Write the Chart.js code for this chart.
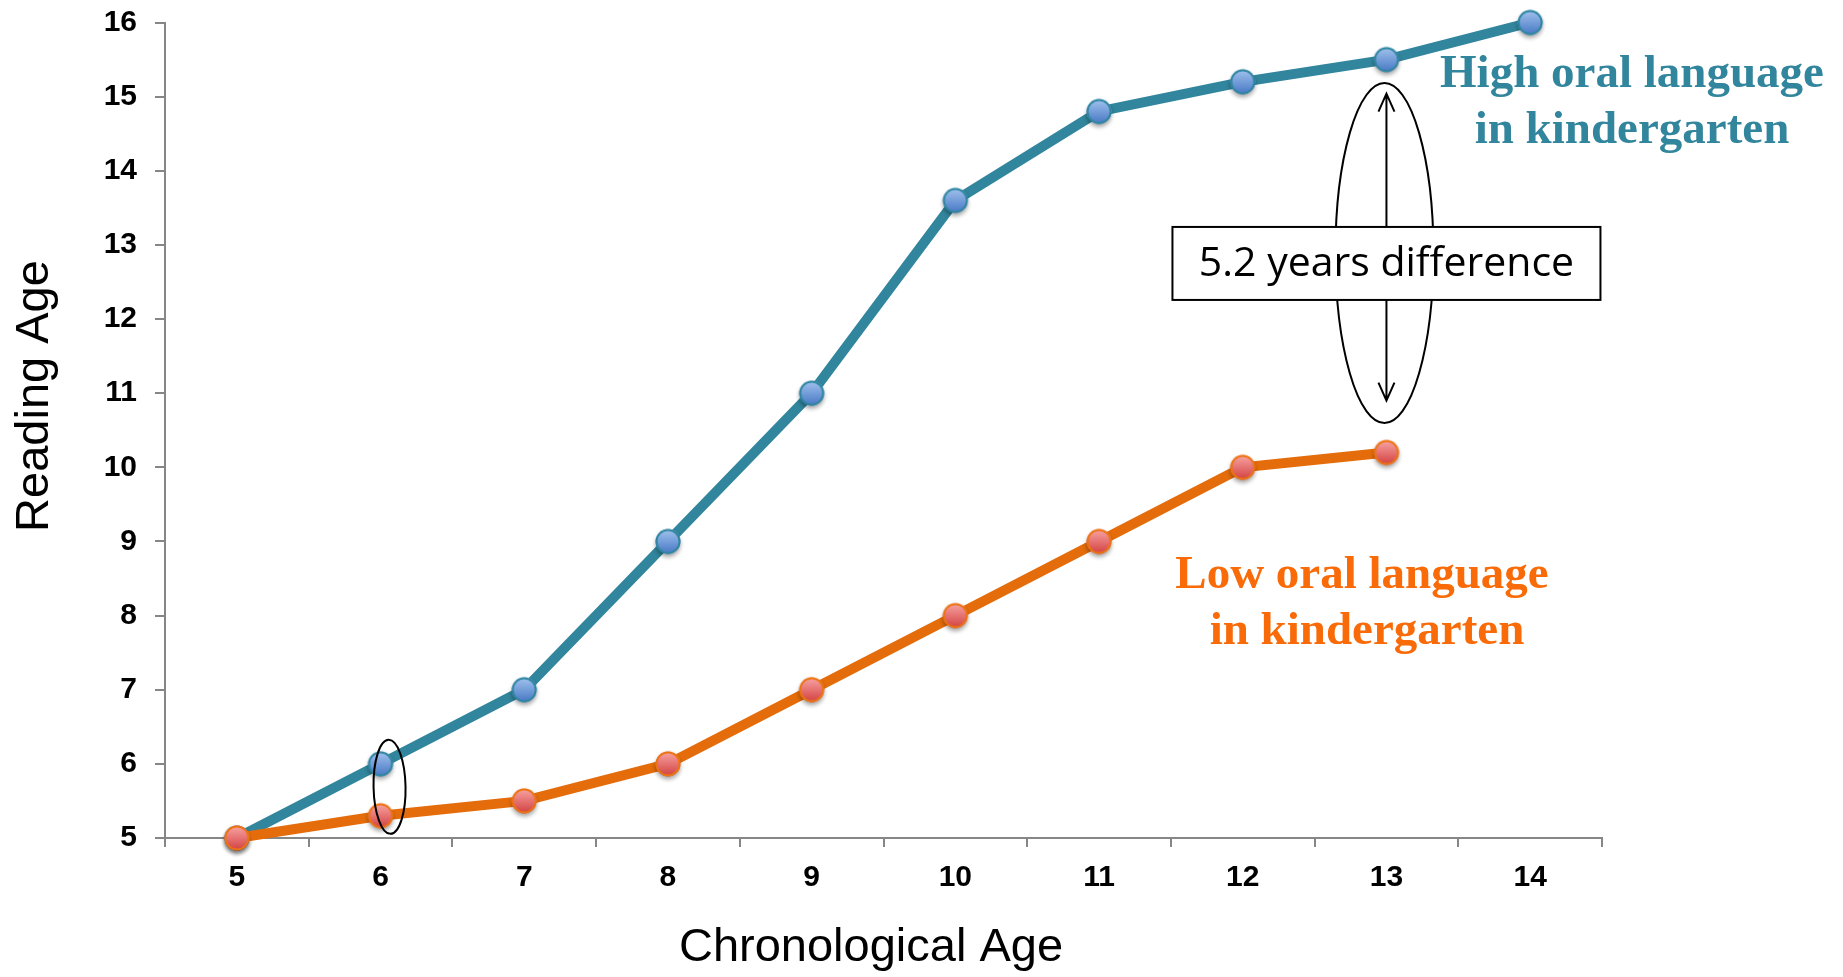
<!DOCTYPE html>
<html><head><meta charset="utf-8">
<script src="https://cdn.jsdelivr.net/npm/chart.js@4.4.0/dist/chart.umd.min.js"></script>
<style>html,body{margin:0;padding:0;background:#fff;}#wrap{width:1843px;height:977px;position:relative;}</style>
</head><body><div id="wrap"><canvas id="c" width="1843" height="977"></canvas></div>
<script>
// ---- data ----
const chronologicalAge = ['5', '6', '7', '8', '9', '10', '11', '12', '13', '14'];
const highOralLanguage = [5, 6, 7, 9, 11, 13.6, 14.8, 15.2, 15.5, 16];
const lowOralLanguage  = [5, 5.3, 5.5, 6, 7, 8, 9, 10, 10.2, null];
const readingAgeRange  = [5, 16];
const xTitle = 'Chronological Age';
const yTitle = 'Reading Age';
const highLabel = ['High oral language', 'in kindergarten'];
const lowLabel  = ['Low oral language', 'in kindergarten'];
const gapLabel  = '5.2 years difference';

// ---- styles ----
const TEAL = '#31859C';
const ORANGE = '#E46C0A';
const ORANGE_TEXT = '#F96B08';
const AXIS = '#868686';

function makeMarker(top, bottom, border) {
  const s = 46, r = 12.5;
  const cv = document.createElement('canvas');
  cv.width = s; cv.height = s;
  const g = cv.getContext('2d');
  g.save();
  g.shadowColor = 'rgba(0,0,0,0.35)';
  g.shadowBlur = 4;
  g.shadowOffsetY = 3;
  const grad = g.createLinearGradient(0, s/2 - r, 0, s/2 + r);
  grad.addColorStop(0, top);
  grad.addColorStop(1, bottom);
  g.beginPath();
  g.arc(s/2, s/2, r, 0, Math.PI * 2);
  g.fillStyle = grad;
  g.fill();
  g.restore();
  g.beginPath();
  g.arc(s/2, s/2, r - 1, 0, Math.PI * 2);
  g.lineWidth = 2;
  g.strokeStyle = border;
  g.stroke();
  return cv;
}
const blueMarker = makeMarker('#A3C4EE', '#4677C4', '#2E86A0');
const redMarker = makeMarker('#F9A6A6', '#D2403F', '#EC7410');

const annotations = {
  id: 'annotations',
  afterDatasetsDraw(chart) {
    const {ctx, scales: {x, y}} = chart;
    const px = i => x.getPixelForValue(i);
    const py = v => y.getPixelForValue(v);
    ctx.save();
    ctx.strokeStyle = '#000';
    ctx.lineWidth = 2;
    // small ellipse at age 6
    ctx.beginPath();
    ctx.ellipse(px(1) + 9, py(5.69), 16, 47, -0.02, 0, Math.PI * 2);
    ctx.stroke();
    // big ellipse at age 13
    const cx = px(8);
    ctx.beginPath();
    ctx.ellipse(cx - 2, py(12.89), 49, 170, 0, 0, Math.PI * 2);
    ctx.stroke();
    // double arrow
    const yTop = py(15.04), yBot = py(10.9);
    ctx.beginPath();
    ctx.moveTo(cx, yTop); ctx.lineTo(cx, yBot);
    ctx.moveTo(cx - 8, yTop + 18); ctx.lineTo(cx, yTop); ctx.lineTo(cx + 8, yTop + 18);
    ctx.moveTo(cx - 8, yBot - 18); ctx.lineTo(cx, yBot); ctx.lineTo(cx + 8, yBot - 18);
    ctx.stroke();
    // box
    const bw = 428, bh = 73, by = py(12.75);
    ctx.fillStyle = '#fff';
    ctx.fillRect(cx - bw/2, by - bh/2, bw, bh);
    ctx.strokeRect(cx - bw/2, by - bh/2, bw, bh);
    ctx.fillStyle = '#000';
    ctx.font = '41px "Open Sans"';
    ctx.textAlign = 'center';
    ctx.textBaseline = 'middle';
    ctx.fillText(gapLabel, cx, by + 1);
    ctx.restore();
  },
  afterDraw(chart) {
    const {ctx} = chart;
    ctx.save();
    ctx.textAlign = 'center';
    ctx.textBaseline = 'middle';
    ctx.font = 'bold 47px "Liberation Serif"';
    ctx.fillStyle = TEAL;
    ctx.fillText(highLabel[0], 1632, 75);
    ctx.fillText(highLabel[1], 1632, 131);
    ctx.fillStyle = ORANGE_TEXT;
    ctx.fillText(lowLabel[0], 1362, 576);
    ctx.fillText(lowLabel[1], 1367, 632);
    ctx.fillStyle = '#000';
    ctx.font = '47px "Liberation Sans"';
    ctx.fillText(xTitle, 871, 948);
    ctx.translate(35, 396);
    ctx.rotate(-Math.PI / 2);
    ctx.fillText(yTitle, 0, 0);
    ctx.restore();
  }
};

new Chart(document.getElementById('c'), {
  type: 'line',
  data: {
    labels: chronologicalAge,
    datasets: [
      {
        label: 'Low oral language in kindergarten',
        data: lowOralLanguage,
        borderColor: ORANGE,
        borderWidth: 10,
        pointStyle: redMarker,
        pointRadius: 12.5,
        pointHoverRadius: 12.5,
        tension: 0,
        clip: false,
        spanGaps: false
      },
      {
        label: 'High oral language in kindergarten',
        data: highOralLanguage,
        borderColor: TEAL,
        borderWidth: 10,
        pointStyle: blueMarker,
        pointRadius: 12.5,
        pointHoverRadius: 12.5,
        tension: 0,
        clip: false
      }
    ]
  },
  options: {
    responsive: false,
    animation: false,
    events: [],
    layout: {padding: {top: 20, right: 241, left: 0, bottom: 0}},
    plugins: {legend: {display: false}, tooltip: {enabled: false}},
    scales: {
      x: {
        type: 'category',
        offset: true,
        grid: {offset: true, drawOnChartArea: false, color: AXIS, lineWidth: 2, tickLength: 9},
        border: {color: AXIS, width: 2},
        ticks: {color: '#000', font: {family: '"Liberation Sans"', size: 30, weight: 'bold'}, padding: 13, maxRotation: 0},
        afterFit(s) { s.height = 139; s.paddingLeft = 0; s.paddingRight = 0; }
      },
      y: {
        min: readingAgeRange[0],
        max: readingAgeRange[1],
        grid: {drawOnChartArea: false, color: AXIS, lineWidth: 2, tickLength: 10},
        border: {color: AXIS, width: 2},
        ticks: {stepSize: 1, color: '#000', font: {family: '"Liberation Sans"', size: 30, weight: 'bold'}, padding: 18},
        afterFit(s) { s.width = 165; s.paddingTop = 0; s.paddingBottom = 0; }
      }
    }
  },
  plugins: [annotations]
});
</script>
</body></html>
